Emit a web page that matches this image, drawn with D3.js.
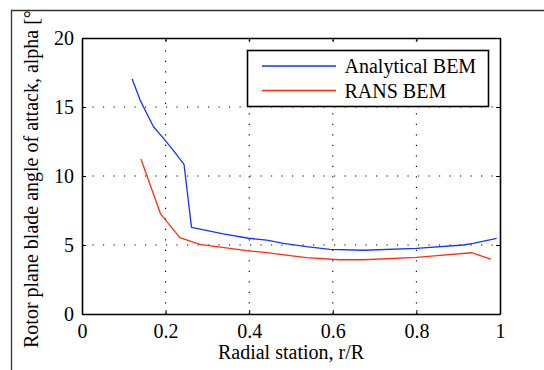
<!DOCTYPE html>
<html>
<head>
<meta charset="utf-8">
<script src="https://cdn.jsdelivr.net/npm/d3@7/dist/d3.min.js"></script>
<style>
  html, body { margin: 0; padding: 0; background: #fff; }
  svg { display: block; }
  svg text { font-family: "Liberation Serif", "Times New Roman", Times, "DejaVu Serif", serif; fill: #000; }
</style>
</head>
<body>
<svg id="chart" width="544" height="370"></svg>
<script>
// Radial station r/R and rotor-plane blade angle of attack (deg)
const analyticalR = [0.120, 0.139, 0.171, 0.193, 0.218, 0.244, 0.262, 0.338, 0.398, 0.442, 0.482, 0.537, 0.593, 0.673, 0.800, 0.912, 0.936, 0.992];
const analyticalAlpha = [17.03, 15.5, 13.57, 12.8, 11.88, 10.85, 6.28, 5.8, 5.49, 5.36, 5.12, 4.88, 4.69, 4.62, 4.76, 5.0, 5.12, 5.48];
const ransR = [0.141, 0.188, 0.234, 0.282, 0.394, 0.442, 0.537, 0.617, 0.673, 0.800, 0.932, 0.978];
const ransAlpha = [11.23, 7.25, 5.53, 5.05, 4.59, 4.44, 4.08, 3.93, 3.93, 4.1, 4.44, 3.98];

const xTicks = [0, 0.2, 0.4, 0.6, 0.8, 1];
const yTicks = [0, 5, 10, 15, 20];
const seriesNames = ["Analytical BEM", "RANS BEM"];
const seriesColors = ["#1236ff", "#ff2e12"];

const serif = "'Liberation Serif', 'Times New Roman', Times, 'DejaVu Serif', serif";
const svg = d3.select("#chart");
const plot = { left: 82, right: 500, top: 38, bottom: 314 };

const x = d3.scaleLinear().domain([0, 1]).range([plot.left, plot.right]);
const y = d3.scaleLinear().domain([0, 20]).range([plot.bottom, plot.top]);

// Outer figure frame
svg.append("path")
  .attr("d", "M11.5,370 L11.5,10.5 L544,10.5")
  .attr("fill", "none").attr("stroke", "#333").attr("stroke-width", 1.3);

// Dotted grid
const grid = svg.append("g")
  .attr("stroke", "#000").attr("stroke-width", 1.1)
  .attr("stroke-dasharray", "1.2,9.3");
grid.selectAll("line.gx").data(xTicks.slice(1, -1)).enter().append("line")
  .attr("x1", d => x(d)).attr("x2", d => x(d))
  .attr("y1", plot.bottom).attr("y2", plot.top);
grid.selectAll("line.gy").data(yTicks.slice(1, -1)).enter().append("line")
  .attr("y1", d => y(d)).attr("y2", d => y(d))
  .attr("x1", plot.left).attr("x2", plot.right);

// Axes with inward ticks on all four sides
const tickLen = 4;
const axisBottom = d3.axisBottom(x).tickValues(xTicks).tickFormat(d3.format("~g"))
  .tickSizeInner(-tickLen).tickSizeOuter(0).tickPadding(10);
const axisLeft = d3.axisLeft(y).tickValues(yTicks).tickFormat(d3.format("~g"))
  .tickSizeInner(-tickLen).tickSizeOuter(0).tickPadding(8);
const axisTop = d3.axisTop(x).tickValues(xTicks).tickFormat("")
  .tickSizeInner(-tickLen).tickSizeOuter(0);
const axisRight = d3.axisRight(y).tickValues(yTicks).tickFormat("")
  .tickSizeInner(-tickLen).tickSizeOuter(0);

function styleAxis(g) {
  g.attr("font-family", serif).attr("font-size", 20);
  g.select(".domain").attr("stroke", "#000").attr("stroke-width", 1.6);
  g.selectAll(".tick line").attr("stroke", "#000").attr("stroke-width", 1);
  g.selectAll(".tick text").attr("fill", "#000");
}

svg.append("g").attr("transform", `translate(0,${plot.bottom})`).call(axisBottom).call(styleAxis);
svg.append("g").attr("transform", `translate(${plot.left},0)`).call(axisLeft).call(styleAxis);
svg.append("g").attr("transform", `translate(0,${plot.top})`).call(axisTop).call(styleAxis);
svg.append("g").attr("transform", `translate(${plot.right},0)`).call(axisRight).call(styleAxis);

// Data lines
const line = d3.line().x(d => x(d[0])).y(d => y(d[1]));
const series = [
  d3.zip(analyticalR, analyticalAlpha),
  d3.zip(ransR, ransAlpha)
];
svg.selectAll("path.series").data(series).enter().append("path")
  .attr("class", "series")
  .attr("d", line)
  .attr("fill", "none")
  .attr("stroke", (d, i) => seriesColors[i])
  .attr("stroke-width", 1.3)
  .attr("stroke-linejoin", "round");

// Axis titles
svg.append("text")
  .attr("x", (plot.left + plot.right) / 2).attr("y", 359)
  .attr("text-anchor", "middle").attr("font-size", 20)
  .text("Radial station, r/R");

svg.append("clipPath").attr("id", "frameClip")
  .append("rect").attr("x", 12).attr("y", 11).attr("width", 532).attr("height", 359);
svg.append("g").attr("clip-path", "url(#frameClip)")
  .append("text")
  .attr("transform", "translate(38,348) rotate(-90)")
  .attr("text-anchor", "start").attr("font-size", 20)
  .text("Rotor plane blade angle of attack, alpha [°]");

// Legend
const legend = svg.append("g");
legend.append("rect")
  .attr("x", 247.5).attr("y", 50.5).attr("width", 241).attr("height", 56)
  .attr("fill", "#fff").attr("stroke", "#000").attr("stroke-width", 1.6);
const rowY = [66, 90.5];
seriesNames.forEach((name, i) => {
  legend.append("line")
    .attr("x1", 262).attr("x2", 336).attr("y1", rowY[i]).attr("y2", rowY[i])
    .attr("stroke", seriesColors[i]).attr("stroke-width", 1.3);
  legend.append("text")
    .attr("x", 344.5).attr("y", rowY[i] + 7)
    .attr("font-size", 20)
    .text(name);
});
</script>
</body>
</html>
